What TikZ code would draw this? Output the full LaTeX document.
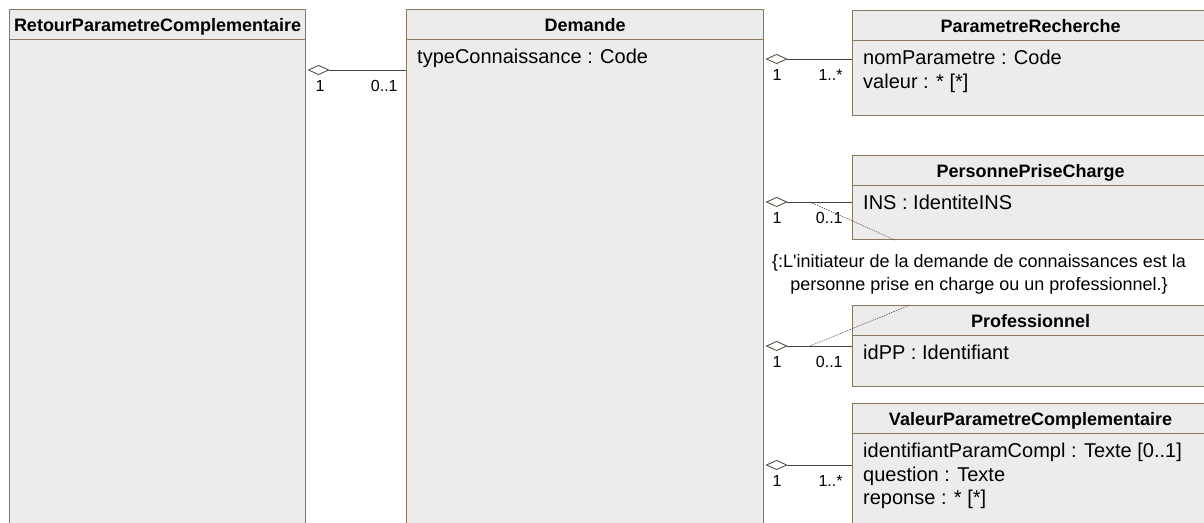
\documentclass[tikz,border=0pt]{standalone}
\usepackage{fontspec}
\setmainfont{Liberation Sans}
\usetikzlibrary{arrows.meta}
\definecolor{clsfill}{RGB}{236,236,236}
\definecolor{clsline}{RGB}{135,120,95}
\definecolor{lnk}{RGB}{75,65,55}
\begin{document}
\begin{tikzpicture}[x=1pt,y=-1pt,
  cls/.style={draw=clsline,fill=clsfill,line width=1.1pt,inner sep=0},
  hdr/.style={cls,minimum height=30,anchor=north,text height=13pt,text depth=0pt,font=\fontsize{18}{21}\selectfont\bfseries},
  attr/.style={anchor=north west,align=left,inner sep=0,font=\fontsize{20}{23.5}\selectfont},
  mult/.style={inner sep=0,yshift=-10pt,font=\fontsize{16}{19}\selectfont},
  agg/.style={draw=lnk,line width=0.8pt,shorten <=1.5pt,{Diamond[open,length=22pt,width=10pt,line width=0.8pt]}-},
  ocl/.style={draw=lnk,line width=0.5pt,dash pattern=on 1.5pt off 1pt}]
\useasboundingbox (0,0) rectangle (1204,522);
\clip (0,0) rectangle (1204,522);
\fill[white] (0,0) rectangle (1204,522);
% classes
\node[cls,minimum width=296,minimum height=540,anchor=north west] (retour) at (9,9) {};
\node[hdr,minimum width=296] (retourT) at (retour.north) {RetourParametreComplementaire};
\node[cls,minimum width=357,minimum height=540,anchor=north west] (demande) at (406,9) {};
\node[hdr,minimum width=357] (demandeT) at (demande.north) {Demande};
\node[attr] (demandeA) at ([xshift=11pt,yshift=-9pt]demandeT.south west) {typeConnaissance : Code};
\node[cls,minimum width=356,minimum height=105,anchor=north west] (param) at (852,10) {};
\node[hdr,minimum width=356] (paramT) at (param.north) {ParametreRecherche};
\node[attr] (paramA) at ([xshift=11pt,yshift=-9pt]paramT.south west) {nomParametre : Code\\valeur : * [*]};
\node[cls,minimum width=356,minimum height=84,anchor=north west] (personne) at (852,155) {};
\node[hdr,minimum width=356] (personneT) at (personne.north) {PersonnePriseCharge};
\node[attr] (personneA) at ([xshift=11pt,yshift=-9pt]personneT.south west) {INS : IdentiteINS};
\node[cls,minimum width=356,minimum height=81,anchor=north west] (prof) at (852,305) {};
\node[hdr,minimum width=356] (profT) at (prof.north) {Professionnel};
\node[attr] (profA) at ([xshift=11pt,yshift=-9pt]profT.south west) {idPP : Identifiant};
\node[cls,minimum width=356,minimum height=140,anchor=north west] (valeur) at (852,403) {};
\node[hdr,minimum width=356] (valeurT) at (valeur.north) {ValeurParametreComplementaire};
\node[attr] (valeurA) at ([xshift=11pt,yshift=-9pt]valeurT.south west) {identifiantParamCompl : Texte [0..1]\\question : Texte\\reponse : * [*]};
% associations
\path (retour.north east) ++(0,61) coordinate (pT);
\path (param.north west) ++(0,49) coordinate (pR);
\path (personne.north west) ++(0,47) coordinate (pP);
\path (prof.north west) ++(0,41) coordinate (pF);
\path (valeur.north west) ++(0,62) coordinate (pV);
\draw[agg] (pT) -- (demande.west |- pT)
  node[mult,pos=0,anchor=north west,xshift=9pt] (mT1) {1}
  node[mult,pos=1,anchor=north east,xshift=-8pt] (mT2) {0..1};
\draw[agg] (demande.east |- pR) -- (pR)
  node[mult,pos=0,anchor=north west,xshift=8pt] (mR1) {1}
  node[mult,pos=1,anchor=north east,xshift=-9pt] (mR2) {1..*};
\draw[agg] (demande.east |- pP) -- (pP)
  node[mult,pos=0,anchor=north west,xshift=8pt] (mP1) {1}
  node[mult,pos=1,anchor=north east,xshift=-9pt] (mP2) {0..1};
\draw[agg] (demande.east |- pF) -- (pF)
  node[mult,pos=0,anchor=north west,xshift=8pt] (mF1) {1}
  node[mult,pos=1,anchor=north east,xshift=-9pt] (mF2) {0..1};
\draw[agg] (demande.east |- pV) -- (pV)
  node[mult,pos=0,anchor=north west,xshift=8pt] (mV1) {1}
  node[mult,pos=1,anchor=north east,xshift=-9pt] (mV2) {1..*};
% contrainte
\node[align=center,inner sep=0,font=\fontsize{18}{23}\selectfont] (contrainte) at (979,274)
  {\{:L\textquotesingle initiateur de la demande de connaissances est la\\personne prise en charge ou un professionnel.\}};
\draw[ocl] ([xshift=-42pt]pP) -- ([xshift=43pt]personne.south west);
\draw[ocl] ([xshift=-42pt]pF) -- ([xshift=58pt]prof.north west);
\end{tikzpicture}
\end{document}
